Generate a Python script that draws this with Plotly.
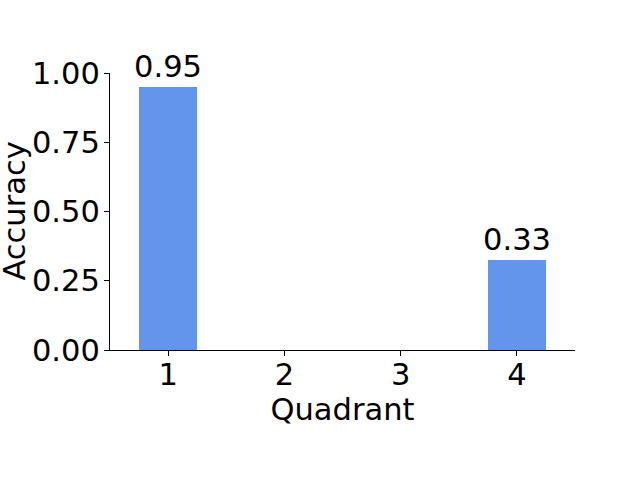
import plotly.graph_objects as go

quadrants = [1, 2, 3, 4]
accuracy = [0.95, 0.0, 0.0, 0.325]
bar_labels = ["0.95", "", "", "0.33"]
y_ticks = [0.0, 0.25, 0.5, 0.75, 1.0]

FONT = "DejaVu Sans"
FS = 30.5

fig = go.Figure(
    go.Bar(
        x=quadrants,
        y=accuracy,
        width=0.5,
        marker=dict(color="#6495ED", line=dict(width=0)),
        text=bar_labels,
        textposition="outside",
        constraintext="none",
        textfont=dict(family=FONT, size=FS, color="black"),
        cliponaxis=False,
        hoverinfo="skip",
    )
)

fig.update_layout(
    width=640,
    height=480,
    margin=dict(l=110, r=65, t=73, b=130, pad=0),
    plot_bgcolor="white",
    paper_bgcolor="white",
    font=dict(family=FONT, size=FS, color="black"),
    showlegend=False,
    bargap=0,
)

fig.update_xaxes(
    range=[0.5, 4.5],
    tickvals=quadrants,
    ticktext=[str(q) for q in quadrants],
    ticks="outside",
    ticklen=5,
    tickwidth=1,
    tickcolor="black",
    ticklabelstandoff=-8,
    showline=True,
    linecolor="black",
    linewidth=1,
    showgrid=False,
    zeroline=False,
    automargin=False,
    title=dict(text="Quadrant", font=dict(family=FONT, size=FS), standoff=2),
    tickfont=dict(family=FONT, size=FS),
)

fig.update_yaxes(
    range=[0, 1.0],
    tickvals=y_ticks,
    tickformat=".2f",
    ticks="outside",
    ticklen=5,
    tickwidth=1,
    tickcolor="black",
    ticklabelstandoff=-2,
    showline=True,
    linecolor="black",
    linewidth=1,
    showgrid=False,
    zeroline=False,
    automargin=False,
    tickfont=dict(family=FONT, size=FS),
)

fig.add_annotation(
    text="Accuracy",
    xref="paper",
    yref="paper",
    x=0,
    y=0.5,
    xshift=-96,
    xanchor="center",
    yanchor="middle",
    textangle=-90,
    showarrow=False,
    borderpad=0,
    font=dict(family=FONT, size=FS, color="black"),
)

fig.write_html(
    "out.html",
    config={"displayModeBar": False},
    post_script="document.body.style.margin='0';document.body.style.padding='0';",
)
